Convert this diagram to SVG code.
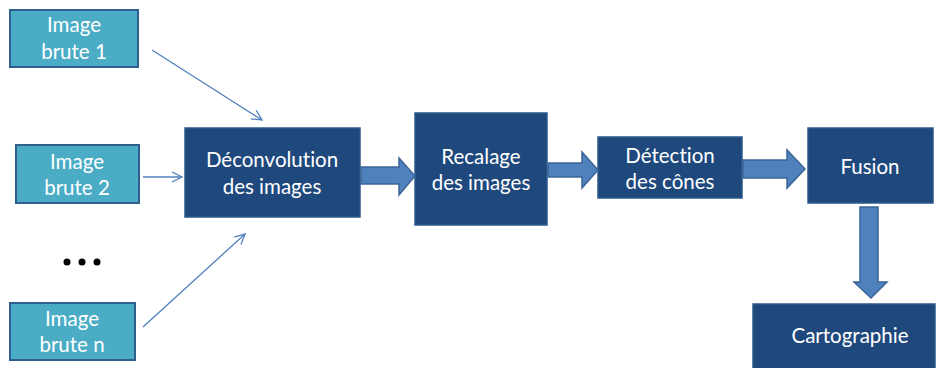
<svg xmlns="http://www.w3.org/2000/svg" width="936" height="368" viewBox="0 0 936 368">
<defs>
<style>
.light{fill:#4bacc6;stroke:#2f5f8f;stroke-width:2}
.dark{fill:#1f497d;stroke:#2c5a8c;stroke-width:1.5}
.t{font-family:Lato,"Open Sans","Liberation Sans",sans-serif;font-size:20.5px;fill:#ffffff;text-anchor:middle;font-variant-ligatures:none;font-feature-settings:"liga" 0}
.thin{stroke:#4f81bd;stroke-width:1.3;fill:none}
.block{fill:#4f81bd;stroke:#3b6596;stroke-width:1.5}
</style>
<marker id="ah" viewBox="0 0 12 12" refX="11" refY="6" markerWidth="12" markerHeight="12" markerUnits="userSpaceOnUse" orient="auto">
<path d="M1,1 L11,6 L1,11" fill="none" stroke="#4f81bd" stroke-width="1.3"/>
</marker>
</defs>
<rect width="936" height="368" fill="#ffffff"/>
<g id="img1"><rect class="light" x="10" y="10" width="128" height="57"/><text class="t" x="74" y="32">Image</text><text class="t" x="74" y="59">brute 1</text></g>
<g id="img2"><rect class="light" x="16" y="145" width="123" height="58"/><text class="t" x="77" y="169">Image</text><text class="t" x="77" y="195">brute 2</text></g>
<g id="imgn"><rect class="light" x="10" y="303" width="125" height="57"/><text class="t" x="72" y="326">Image</text><text class="t" x="72" y="352">brute n</text></g>
<g id="dots" fill="#000000"><circle cx="67" cy="262" r="3.5"/><circle cx="82" cy="262" r="3.5"/><circle cx="97" cy="262" r="3.5"/></g>
<g id="deconv"><rect class="dark" x="185" y="128" width="175" height="89"/><text class="t" x="272" y="167">Déconvolution</text><text class="t" x="272" y="194">des images</text></g>
<g id="recalage"><rect class="dark" x="415" y="113" width="132" height="112"/><text class="t" x="481" y="164">Recalage</text><text class="t" x="481" y="190">des images</text></g>
<g id="detection"><rect class="dark" x="598" y="137" width="144" height="61"/><text class="t" x="670" y="163">Détection</text><text class="t" x="670" y="189">des cônes</text></g>
<g id="fusion"><rect class="dark" x="808" y="128" width="125" height="75"/><text class="t" x="870" y="174">Fusion</text></g>
<g id="carto"><rect class="dark" x="753" y="304" width="182" height="66"/><text class="t" x="850" y="343">Cartographie</text></g>
<g id="connectors">
<line class="thin" x1="152" y1="50" x2="262" y2="120" marker-end="url(#ah)"/>
<line class="thin" x1="143" y1="177" x2="182" y2="177" marker-end="url(#ah)"/>
<line class="thin" x1="143" y1="327" x2="245" y2="234" marker-end="url(#ah)"/>
<path class="block" d="M361,167 L399,167 L399,158 L415,176 L399,195 L399,184 L361,184 Z"/>
<path class="block" d="M548,163 L582,163 L582,152 L598,170 L582,188 L582,177 L548,177 Z"/>
<path class="block" d="M743,160 L787,160 L787,150 L805,169 L787,188 L787,178 L743,178 Z"/>
<path class="block" d="M860,207 L878,207 L878,282 L887,282 L871,298 L854,282 L860,282 Z"/>
</g>
</svg>
